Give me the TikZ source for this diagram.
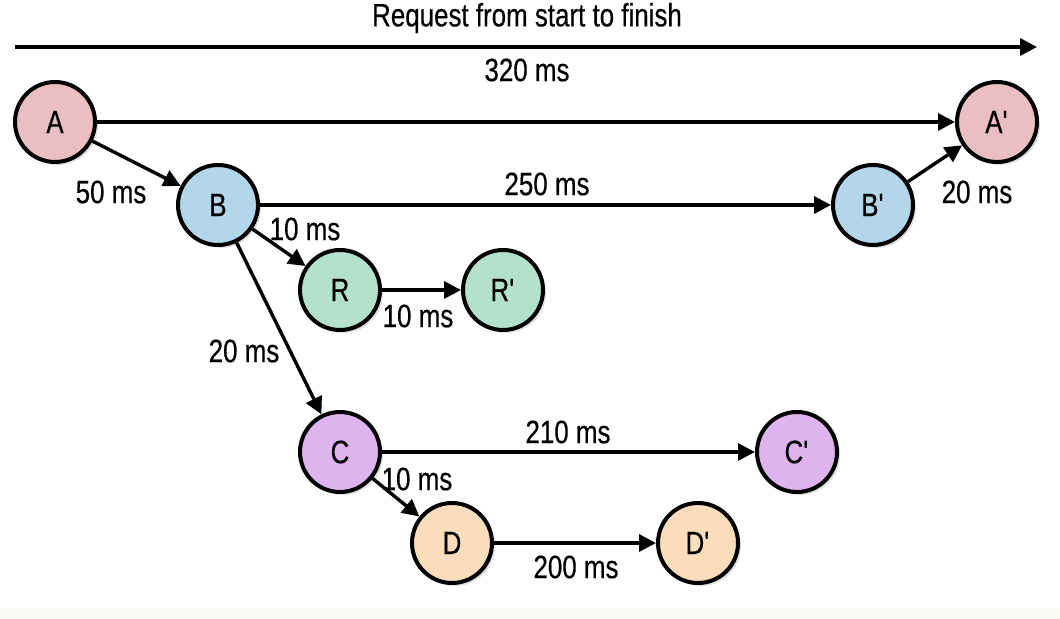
\documentclass[tikz,border=0pt]{standalone}
\usepackage{fontspec}
\setmainfont[FakeStretch=0.8,FakeBold=0.4]{Liberation Sans}
\usepackage{tikz}
\usetikzlibrary{arrows.meta,shadows}

\definecolor{nodeA}{HTML}{EBBFC1}
\definecolor{nodeB}{HTML}{B3D6EB}
\definecolor{nodeR}{HTML}{B4E1CC}
\definecolor{nodeC}{HTML}{DFB3EE}
\definecolor{nodeD}{HTML}{FCDDBB}
\definecolor{band}{HTML}{FAF8F3}
\newcommand{\primed}[1]{#1\textquotesingle}

\begin{document}
\begin{tikzpicture}[x=0.5pt,y=-0.5pt,font=\fontsize{16.2}{18}\selectfont,
  span/.style={circle,draw=black,line width=2pt,minimum size=40pt,inner sep=0pt,
    drop shadow={opacity=0.25,shadow xshift=1.5pt,shadow yshift=-1.5pt}},
  link/.style={line width=1.7pt,-{Triangle[length=8.5pt,width=8.5pt]}},
  lbl/.style={inner sep=1pt}]
  \useasboundingbox (0,0) rectangle (1060,619);
  \fill[band] (0,608) rectangle (1060,619);
  \node[lbl] (title) at (527,18) {Request from start to finish};
  \coordinate (t0) at (15,47);
  \coordinate (t1) at (1037,47);
  \draw[link] (t0) -- (t1);
  \node[lbl] (total) at (527,70) {320 ms};
  \node[span,fill=nodeA] (A) at (55,122) {A};
  \node[span,fill=nodeA] (A') at (997,122) {\primed{A}};
  \node[span,fill=nodeB] (B) at (218,205) {B};
  \node[span,fill=nodeB] (B') at (873,205) {\primed{B}};
  \node[span,fill=nodeR] (R) at (340,290) {R};
  \node[span,fill=nodeR] (R') at (503,290) {\primed{R}};
  \node[span,fill=nodeC] (C) at (340,452) {C};
  \node[span,fill=nodeC] (C') at (797,452) {\primed{C}};
  \node[span,fill=nodeD] (D) at (452,543) {D};
  \node[span,fill=nodeD] (D') at (698,543) {\primed{D}};
  \draw[link] (A) -- (A');
  \draw[link] (A) -- (B);
  \draw[link] (B) -- (B');
  \draw[link] (B') -- (A');
  \draw[link] (B) -- (R);
  \draw[link] (R) -- (R');
  \draw[link] (B) -- (C);
  \draw[link] (C) -- (C');
  \draw[link] (C) -- (D);
  \draw[link] (D) -- (D');
  \node[lbl] (tAB) at (111,192) {50 ms};
  \node[lbl] (tBB) at (547,184) {250 ms};
  \node[lbl] (tBA) at (977,192) {20 ms};
  \node[lbl] (tBR) at (305,229) {10 ms};
  \node[lbl] (tRR) at (418,316) {10 ms};
  \node[lbl] (tBC) at (244,351) {20 ms};
  \node[lbl] (tCC) at (568,432) {210 ms};
  \node[lbl] (tCD) at (417,479) {10 ms};
  \node[lbl] (tDD) at (576,567) {200 ms};
\end{tikzpicture}
\end{document}
